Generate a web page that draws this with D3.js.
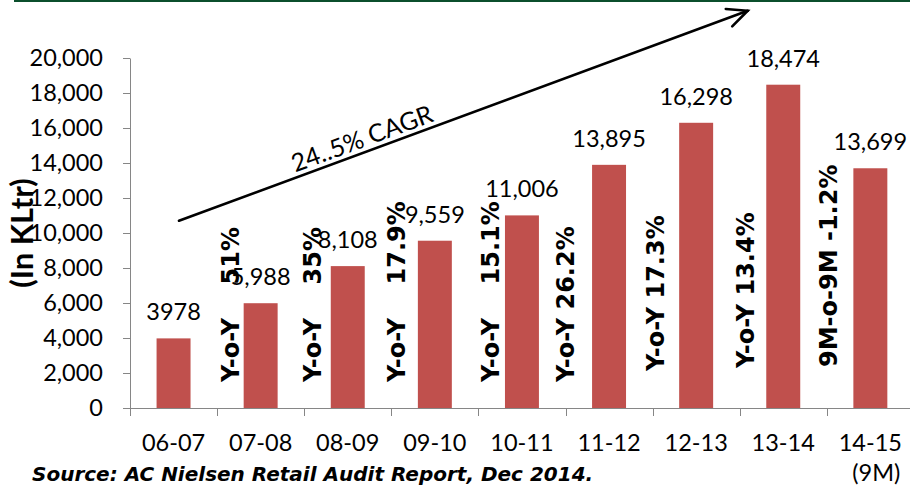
<!DOCTYPE html>
<html>
<head>
<meta charset="utf-8">
<script src="https://cdn.jsdelivr.net/npm/d3@7"></script>
<style>
  html, body { margin: 0; padding: 0; background: #fff; }
  svg { display: block; }
  text { white-space: pre; }
</style>
</head>
<body>
<svg id="chart" width="910" height="488"></svg>
<script>
// Retail volume by fiscal year (KLtr)
const categories = ["06-07", "07-08", "08-09", "09-10", "10-11", "11-12", "12-13", "13-14", "14-15"];
const categoryNotes = ["", "", "", "", "", "", "", "", "(9M)"];
const volumes = [3978, 5988, 8108, 9559, 11006, 13895, 16298, 18474, 13699];
const valueLabels = ["3978", "5,988", "8,108", "9,559", "11,006", "13,895", "16,298", "18,474", "13,699"];
// growth vs previous year, shown to the left of each year's bar from 07-08 on
const growthLabels = ["Y-o-Y    51%", "Y-o-Y    35%", "Y-o-Y    17.9%", "Y-o-Y    15.1%",
                      "Y-o-Y 26.2%", "Y-o-Y 17.3%", "Y-o-Y 13.4%", "9M-o-9M -1.2%"];
const yTicks = [0, 2000, 4000, 6000, 8000, 10000, 12000, 14000, 16000, 18000, 20000];
const cagrLabel = "24..5% CAGR";
const axisTitle = "(In KLtr)";
const sourceNote = "Source: AC Nielsen Retail Audit Report, Dec 2014.";

const W = 910, H = 488;
const FONT = "Lato, 'Open Sans', sans-serif";
const WIDE_FONT = "'DejaVu Sans', Verdana, sans-serif";
const AXIS_GREY = "#868686";
const BAR_RED = "#C0504D";

const svg = d3.select("#chart");
svg.append("rect").attr("width", W).attr("height", H).attr("fill", "#fff");
// dark green rule along the top edge
svg.append("rect").attr("x", 14).attr("y", 0).attr("width", W - 14).attr("height", 2).attr("fill", "#0b4f2c");

const plot = { left: 130, right: 130 + 9 * 87.1, top: 58, bottom: 408 };
const x = d3.scaleBand().domain(categories).range([plot.left, plot.right]).padding(0);
const y = d3.scaleLinear().domain([0, 20000]).range([plot.bottom, plot.top]);
const bw = x.bandwidth();
const barW = bw * 0.39;

// y axis
const gy = svg.append("g").attr("transform", `translate(${plot.left},0)`)
  .call(d3.axisLeft(y).tickValues(yTicks).tickFormat(d3.format(","))
    .tickSize(7).tickPadding(20).tickSizeOuter(0));
gy.select(".domain").attr("stroke", AXIS_GREY);
gy.selectAll(".tick line").attr("stroke", AXIS_GREY);
gy.selectAll(".tick text").attr("font-family", FONT).attr("font-size", 23.5).attr("fill", "#000");

// x axis: baseline, boundary ticks, category labels
const gx = svg.append("g");
gx.append("line")
  .attr("x1", plot.left).attr("x2", W)
  .attr("y1", y(0) + 0.5).attr("y2", y(0) + 0.5)
  .attr("stroke", AXIS_GREY);
gx.selectAll("line.bound").data(categories).join("line").attr("class", "bound")
  .attr("x1", d => Math.round(x(d)) + 0.5).attr("x2", d => Math.round(x(d)) + 0.5)
  .attr("y1", y(0)).attr("y2", y(0) + 8)
  .attr("stroke", AXIS_GREY);
gx.selectAll("text.cat").data(categories).join("text").attr("class", "cat")
  .attr("x", d => x(d) + bw / 2).attr("y", 451)
  .attr("text-anchor", "middle").attr("font-family", FONT).attr("font-size", 23.5)
  .text(d => d);
gx.selectAll("text.note").data(categories).join("text").attr("class", "note")
  .attr("x", d => x(d) + bw / 2 + 6).attr("y", 481)
  .attr("text-anchor", "middle").attr("font-family", FONT).attr("font-size", 23.5)
  .text((d, i) => categoryNotes[i]);

// bars
svg.append("g").selectAll("rect").data(volumes).join("rect")
  .attr("x", (d, i) => x(categories[i]) + (bw - barW) / 2)
  .attr("y", d => y(d))
  .attr("width", barW)
  .attr("height", d => y(0) - y(d))
  .attr("fill", BAR_RED);

// value labels above bars
svg.append("g").selectAll("text").data(volumes).join("text")
  .attr("x", (d, i) => x(categories[i]) + bw / 2)
  .attr("y", d => y(d) - 18)
  .attr("text-anchor", "middle").attr("font-family", FONT).attr("font-size", 23.5)
  .attr("fill", "#000")
  .text((d, i) => valueLabels[i]);

// growth labels, rotated, sitting on the boundary before each bar
const growthNudge = [13, 8, 5, 12, -1, 2, 5, 1];
const growthLift = [26, 26, 26, 26, 26, 37, 40, 41];
svg.append("g").selectAll("text").data(growthLabels).join("text")
  .attr("transform", (d, i) => {
    const cx = x(categories[i + 1]) + growthNudge[i] + 9;
    return `translate(${cx},${y(0) - growthLift[i]}) rotate(-90)`;
  })
  .attr("font-family", WIDE_FONT).attr("font-weight", "bold").attr("font-size", 24)
  .attr("fill", "#000")
  .text(d => d);

// y axis title
svg.append("text")
  .attr("transform", "translate(33,233) rotate(-90)")
  .attr("text-anchor", "middle").attr("font-family", FONT)
  .attr("font-weight", "bold").attr("font-size", 31)
  .text(axisTitle);

// CAGR arrow
const A = [plot.left + 49, y(10700)];
const B = [x(categories[7]) + 8, y(22700)];
const ang = Math.atan2(B[1] - A[1], B[0] - A[0]);
const arrow = svg.append("g").attr("stroke", "#000").attr("stroke-width", 2.6)
  .attr("fill", "none").attr("stroke-linecap", "round");
arrow.append("line").attr("x1", A[0]).attr("y1", A[1]).attr("x2", B[0]).attr("y2", B[1]);
const headLen = 22, headSpread = 25 * Math.PI / 180;
arrow.append("path").attr("d", d3.line()([
  [B[0] - headLen * Math.cos(ang - headSpread), B[1] - headLen * Math.sin(ang - headSpread)],
  B,
  [B[0] - headLen * Math.cos(ang + headSpread), B[1] - headLen * Math.sin(ang + headSpread)]
]));
const t = 0.33;
const P = [A[0] + t * (B[0] - A[0]), A[1] + t * (B[1] - A[1])];
svg.append("text")
  .attr("transform", `translate(${P[0]},${P[1]}) rotate(${ang * 180 / Math.PI})`)
  .attr("y", -5).attr("text-anchor", "middle")
  .attr("font-family", FONT).attr("font-size", 25)
  .text(cagrLabel);

// source note
svg.append("text")
  .attr("x", 32).attr("y", 481)
  .attr("font-family", WIDE_FONT).attr("font-weight", "bold").attr("font-style", "italic")
  .attr("font-size", 20)
  .text(sourceNote);
</script>
</body>
</html>
